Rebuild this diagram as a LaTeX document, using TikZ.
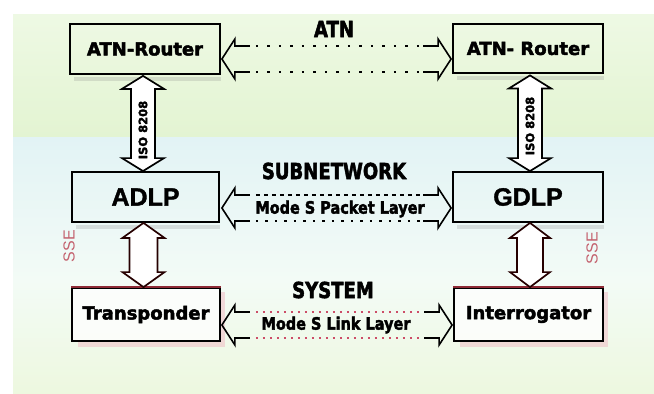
\documentclass[tikz,border=0pt]{standalone}
\usepackage{fontspec}
\setmainfont{Liberation Sans}[BoldFeatures={FakeBold=1.5}]
\newfontfamily\dvs{DejaVu Sans}[BoldFeatures={FakeBold=2.5}]
\usetikzlibrary{calc}
\definecolor{bgGa}{HTML}{EEF9E4}
\definecolor{bgGb}{HTML}{E3F4D2}
\definecolor{bgBa}{HTML}{E2F3F5}
\definecolor{bgBb}{HTML}{F3FBF6}
\definecolor{bgYb}{HTML}{EDF8DF}
\definecolor{darkred}{HTML}{8E2A36}
\definecolor{pinkdot}{HTML}{CC4D67}
\definecolor{ssered}{HTML}{C4626F}
\definecolor{glow}{HTML}{F0BDC6}
\tikzset{
  box/.style={draw=black, line width=1.8pt, minimum width=150pt, minimum height=50pt,
    inner sep=0pt, font=\dvs\bfseries\fontsize{18}{20}\selectfont},
  bigbox/.style={box, font=\bfseries\fontsize{25}{28}\selectfont},
  lowbox/.style={box, minimum height=53pt, fill=white, fill opacity=0.75, text opacity=1},
  heading/.style={inner sep=0pt, font=\dvs\bfseries\fontsize{22}{24}\selectfont},
  layerlbl/.style={inner sep=0pt, font=\dvs\bfseries\fontsize{17}{18}\selectfont},
  isolbl/.style={inner sep=0pt, rotate=90, font=\dvs\bfseries\fontsize{11.5}{12}\selectfont},
  sse/.style={inner sep=0pt, rotate=90, text=ssered, font=\fontsize{16}{16}\selectfont},
  hline/.style={line width=1.6pt, line join=miter, draw=black},
  vline/.style={line width=1.7pt, line join=miter, draw=black, fill=white},
  atndot/.style={line width=2pt, dash pattern=on 2.5pt off 9pt},
  pktdash/.style={line width=1.7pt, dash pattern=on 4pt off 4pt},
  pktdot/.style={line width=2pt, dash pattern=on 2.5pt off 7pt},
  lnkdot/.style={line width=2pt, draw=pinkdot, dash pattern=on 2.5pt off 4.5pt},
  shadow/.style={fill=gray, opacity=0.22},
  glowline/.style={draw=glow, line width=5pt, opacity=0.55},
}
\newcommand\harrowpair[4]{%
  \draw[hline] let \p1=(#1), \p2=(#2) in
    (\x1+28pt,\y1+13pt) -- (\x1+13pt,\y1+13pt) -- (\x1+13pt,\y1+20pt) -- (\x1,\y1)
      -- (\x1+13pt,\y1-20pt) -- (\x1+13pt,\y1-13pt) -- (\x1+28pt,\y1-13pt)
    (\x2-28pt,\y2+13pt) -- (\x2-13pt,\y2+13pt) -- (\x2-13pt,\y2+20pt) -- (\x2,\y2)
      -- (\x2-13pt,\y2-20pt) -- (\x2-13pt,\y2-13pt) -- (\x2-28pt,\y2-13pt);
  \draw[#3] let \p1=(#1), \p2=(#2) in (\x1+34pt,\y1+13pt) -- (\x2-31pt,\y2+13pt);
  \draw[#4] let \p1=(#1), \p2=(#2) in (\x1+34pt,\y1-13pt) -- (\x2-31pt,\y2-13pt);
}
\newcommand\varrow[6]{%
  \draw[vline,#6] let \p1=(#1), \p2=(#2) in
    (\x1,\y1) -- (\x1+#4,\y1-#5) -- (\x1+#3,\y1-#5) -- (\x1+#3,\y2+#5) -- (\x1+#4,\y2+#5)
    -- (\x1,\y2) -- (\x1-#4,\y2+#5) -- (\x1-#3,\y2+#5) -- (\x1-#3,\y1-#5) -- (\x1-#4,\y1-#5) -- cycle;
}
\begin{document}
\begin{tikzpicture}[x=1pt,y=-1pt]
\useasboundingbox (0,0) rectangle (654,394);
\fill[white] (0,0) rectangle (654,394);
% background
\shade[top color=bgGa, bottom color=bgGb] (13,14) rectangle (654,137);
\shade[top color=bgBa, bottom color=bgBb] (13,137) rectangle (654,280);
\shade[top color=bgBb, bottom color=bgYb] (13,280) rectangle (654,394);

% boxes
\node[box] (ar1) at (145,49) {ATN-Router};
\node[box, minimum height=49pt] (ar2) at (528,48.5) {ATN- Router};
\node[bigbox, minimum width=147pt] (adlp) at (145.5,197) {ADLP};
\node[bigbox] (gdlp) at (528,197) {GDLP};
\draw[glowline] (222,292) -- (222,344) -- (78,344);
\draw[glowline] (605,292) -- (605,344) -- (460,344);
\node[lowbox, minimum width=148pt] (tr) at (146,314.5) {Transponder};
\node[lowbox, minimum width=149pt] (ir) at (528.5,314.5) {Interrogator};
\draw[darkred, line width=1.8pt] (tr.north west) -- (tr.north east);
\draw[darkred, line width=1.8pt] (ir.north west) -- (ir.north east);

\foreach \b in {ar1,ar2,adlp,gdlp}{
  \fill[shadow] ($(\b.south west)+(5,2)$) rectangle ($(\b.south east)+(0,6)$);
}

% headings
\node[heading] (hatn) at (334,29) {\scalebox{0.82}[1]{ATN}};
\node[heading] (hsub) at (334,171) {\scalebox{0.82}[1]{SUBNETWORK}};
\node[heading] (hsys) at (333,290) {\scalebox{0.82}[1]{SYSTEM}};

% horizontal arrows
\coordinate (atnL) at ($(ar1.east)+(1,10)$);
\coordinate (atnR) at ($(ar2.west)+(-1,10.5)$);
\coordinate (pktL) at ($(adlp.east)+(2,11)$);
\coordinate (pktR) at ($(gdlp.west)+(-1,11)$);
\coordinate (lnkL) at ($(tr.east)+(1,10.5)$);
\coordinate (lnkR) at ($(ir.west)+(-1,10.5)$);
\harrowpair{atnL}{atnR}{atndot}{atndot}
\harrowpair{pktL}{pktR}{pktdash}{pktdot}
\harrowpair{lnkL}{lnkR}{lnkdot}{lnkdot}
\node[layerlbl] (lpkt) at (340,209) {\scalebox{0.85}[1]{Mode S Packet Layer}};
\node[layerlbl] (llnk) at (336,325) {\scalebox{0.85}[1]{Mode S Link Layer}};

% vertical arrows
\coordinate (isoLt) at ($(ar1.south)+(-2,1)$);
\coordinate (isoLb) at ($(adlp.north)+(-2.5,0)$);
\coordinate (isoRt) at ($(ar2.south)+(2,1.5)$);
\coordinate (isoRb) at ($(gdlp.north)+(2,0)$);
\coordinate (dnLt) at ($(adlp.south)+(-2,0)$);
\coordinate (dnLb) at ($(tr.north)+(-2.5,0)$);
\coordinate (dnRt) at ($(gdlp.south)+(2,0)$);
\coordinate (dnRb) at ($(ir.north)+(1.5,0)$);
\varrow{isoLt}{isoLb}{12pt}{21pt}{13pt}{}
\varrow{isoRt}{isoRb}{12pt}{21pt}{13pt}{}
\varrow{dnLt}{dnLb}{14pt}{21pt}{15pt}{draw=black!85!red}
\varrow{dnRt}{dnRb}{13pt}{20pt}{15pt}{draw=black!85!red}
\node[isolbl] (isoL) at (143,130) {ISO 8208};
\node[isolbl] (isoR) at (530,126) {ISO 8208};

% side marks
\node[sse] (sseL) at (69,246) {SSE};
\node[sse] (sseR) at (592,248) {SSE};
\end{tikzpicture}
\end{document}
